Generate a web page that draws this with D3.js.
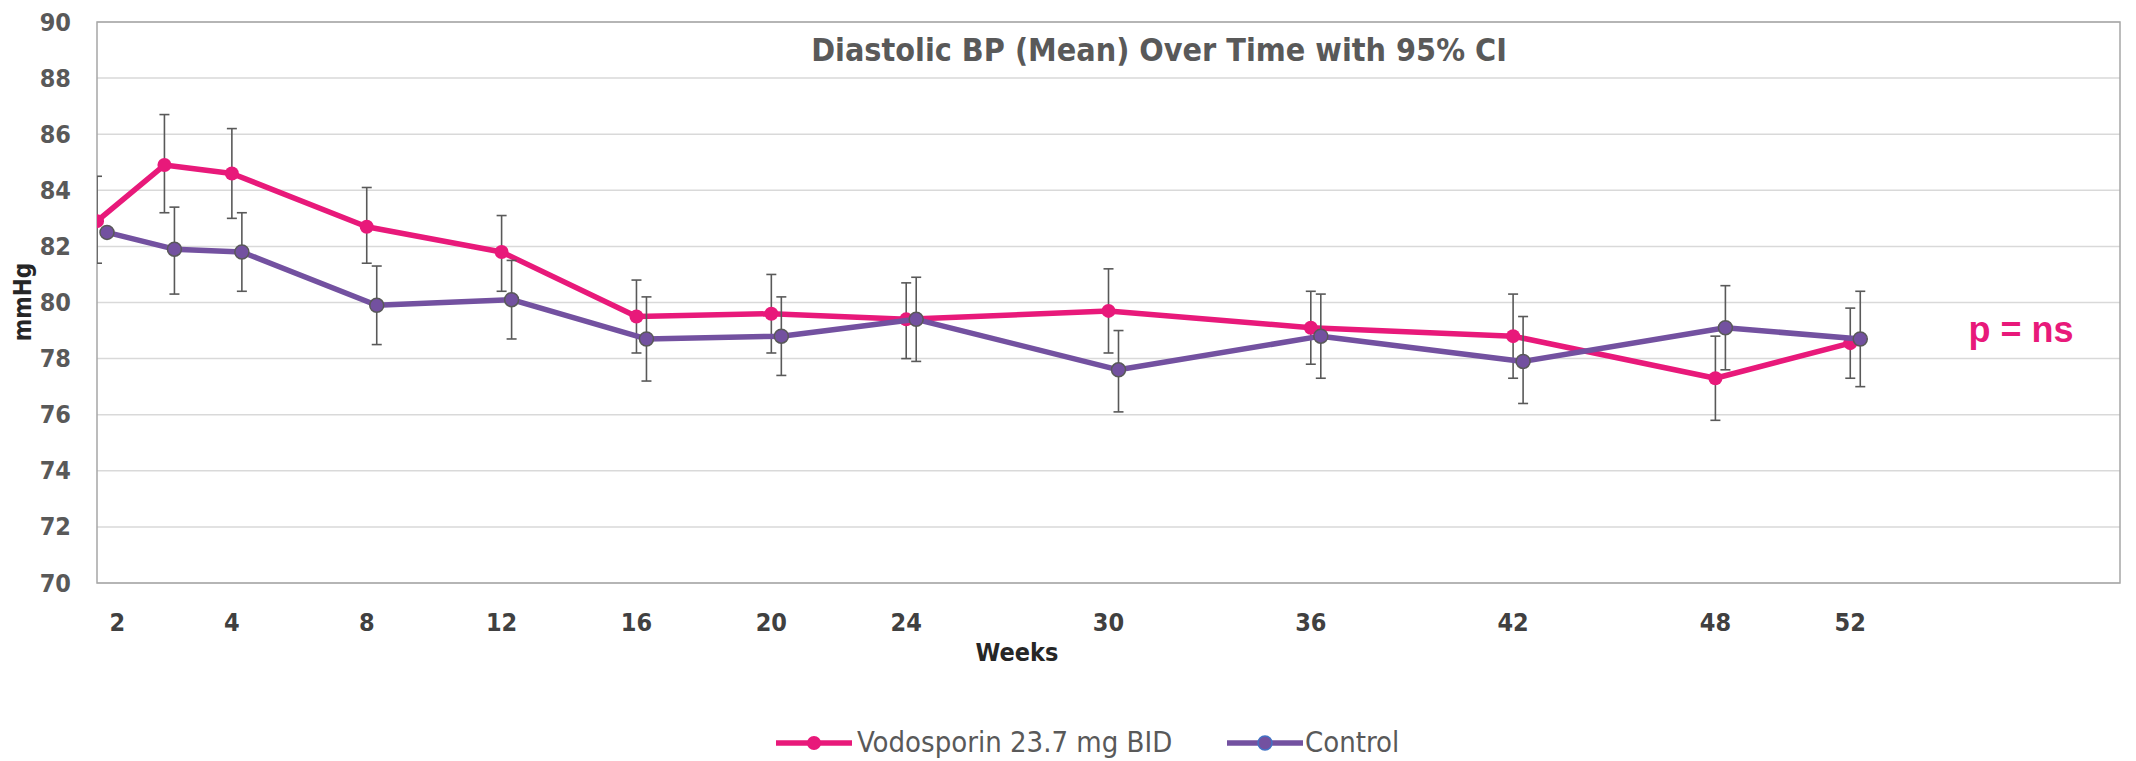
<!DOCTYPE html>
<html>
<head>
<meta charset="utf-8">
<script src="https://cdn.jsdelivr.net/npm/d3@7"></script>
<style>
  body { margin: 0; background: #fff; }
  svg { display: block; }
</style>
</head>
<body>
<svg id="chart" width="2136" height="761"></svg>
<script>
// weeks of each visit (0 = baseline)
const weeks = [0, 2, 4, 8, 12, 16, 20, 24, 30, 36, 42, 48, 52];

const vodoMean = [82.9, 84.9, 84.6, 82.7, 81.8, 79.5, 79.6, 79.4, 79.7, 79.1, 78.8, 77.3, 78.55];
const vodoHigh = [84.5, 86.7, 86.2, 84.1, 83.1, 80.8, 81.0, 80.7, 81.2, 80.4, 80.3, 78.8, 79.8];
const vodoLow  = [81.4, 83.2, 83.0, 81.4, 80.4, 78.2, 78.2, 78.0, 78.2, 77.8, 77.3, 75.8, 77.3];

const ctrlMean = [82.5, 81.9, 81.8, 79.9, 80.1, 78.7, 78.8, 79.4, 77.6, 78.8, 77.9, 79.1, 78.7];
const ctrlHigh = [null, 83.4, 83.2, 81.3, 81.5, 80.2, 80.2, 80.9, 79.0, 80.3, 79.5, 80.6, 80.4];
const ctrlLow  = [null, 80.3, 80.4, 78.5, 78.7, 77.2, 77.4, 77.9, 76.1, 77.3, 76.4, 77.6, 77.0];

// x-axis labels and where they sit (in weeks)
const tickLabels = ['2', '4', '8', '12', '16', '20', '24', '30', '36', '42', '48', '52'];
const tickWeeks  = [0.6, 4, 8, 12, 16, 20, 24, 30, 36, 42, 48, 52];
const yTicks = [70, 72, 74, 76, 78, 80, 82, 84, 86, 88, 90];

const seriesNames = ['Vodosporin 23.7 mg BID', 'Control'];
const PINK = '#E8197A', PURPLE = '#7351A0', GREY = '#595959';
const CONDENSED = "'Liberation Sans Narrow','DejaVu Sans Condensed',sans-serif";

const plot = {left: 97, right: 2120, top: 22, bottom: 583};

const x = d3.scaleLinear().domain([0, 60]).range([plot.left, plot.right]);
const y = d3.scaleLinear().domain([70, 90]).range([plot.bottom, plot.top]);

const svg = d3.select('#chart');

svg.append('defs').append('clipPath').attr('id', 'plotclip')
  .append('rect')
  .attr('x', plot.left).attr('y', plot.top - 10)
  .attr('width', plot.right - plot.left).attr('height', plot.bottom - plot.top + 20);

// gridlines
svg.append('g')
  .selectAll('line')
  .data(yTicks)
  .enter()
  .append('line')
  .attr('x1', plot.left).attr('x2', plot.right)
  .attr('y1', d => y(d)).attr('y2', d => y(d))
  .attr('stroke', '#D9D9D9')
  .attr('stroke-width', 1.5);

// plot border
svg.append('rect')
  .attr('x', plot.left).attr('y', plot.top)
  .attr('width', plot.right - plot.left).attr('height', plot.bottom - plot.top)
  .attr('fill', 'none')
  .attr('stroke', '#A6A6A6')
  .attr('stroke-width', 1.5);

// y axis labels
const yAxis = d3.axisLeft(y).tickValues(yTicks).tickSize(0).tickPadding(26);
const yg = svg.append('g').attr('transform', `translate(${plot.left},0)`).call(yAxis);
yg.select('.domain').remove();
yg.selectAll('text')
  .attr('font-family', CONDENSED)
  .attr('font-weight', 'bold')
  .attr('font-size', 25)
  .attr('fill', GREY);

// x axis labels
svg.append('g')
  .selectAll('text')
  .data(tickLabels)
  .enter()
  .append('text')
  .attr('x', (d, i) => x(tickWeeks[i]))
  .attr('y', 631)
  .attr('text-anchor', 'middle')
  .attr('font-family', CONDENSED)
  .attr('font-weight', 'bold')
  .attr('font-size', 25)
  .attr('fill', '#404040')
  .text(d => d);

// axis titles
svg.append('text')
  .attr('x', 1017).attr('y', 661)
  .attr('text-anchor', 'middle')
  .attr('font-family', CONDENSED)
  .attr('font-weight', 'bold')
  .attr('font-size', 25)
  .attr('fill', '#262626')
  .text('Weeks');

svg.append('text')
  .attr('transform', 'translate(31,302) rotate(-90)')
  .attr('text-anchor', 'middle')
  .attr('font-family', CONDENSED)
  .attr('font-weight', 'bold')
  .attr('font-size', 24)
  .attr('fill', '#262626')
  .text('mmHg');

svg.append('text')
  .attr('x', 1159).attr('y', 61)
  .attr('text-anchor', 'middle')
  .attr('font-family', CONDENSED)
  .attr('font-weight', 'bold')
  .attr('font-size', 32)
  .attr('fill', GREY)
  .text('Diastolic BP (Mean) Over Time with 95% CI');

svg.append('text')
  .attr('x', 2021).attr('y', 342)
  .attr('text-anchor', 'middle')
  .attr('font-family', "'Liberation Sans',Arial,sans-serif")
  .attr('font-weight', 'bold')
  .attr('font-size', 36)
  .attr('fill', PINK)
  .text('p = ns');

// series
const series = [
  {name: seriesNames[0], mean: vodoMean, hi: vodoHigh, lo: vodoLow, color: PINK, stroke: PINK, dx: 0},
  {name: seriesNames[1], mean: ctrlMean, hi: ctrlHigh, lo: ctrlLow, color: PURPLE, stroke: GREY, dx: 10}
];

const line = d3.line()
  .x(d => d.px)
  .y(d => y(d.v));

const marks = svg.append('g').attr('clip-path', 'url(#plotclip)');

series.forEach(s => {
  const pts = weeks.map((w, i) => ({px: x(w) + s.dx, v: s.mean[i], hi: s.hi[i], lo: s.lo[i]}));
  const g = marks.append('g');

  g.append('path')
    .attr('d', line(pts))
    .attr('fill', 'none')
    .attr('stroke', s.color)
    .attr('stroke-width', 5.5)
    .attr('stroke-linejoin', 'round');

  const eb = g.append('g')
    .selectAll('g')
    .data(pts.filter(p => p.hi != null))
    .enter()
    .append('g')
    .attr('stroke', GREY)
    .attr('stroke-width', 1.6);
  eb.append('line')
    .attr('x1', d => d.px).attr('x2', d => d.px)
    .attr('y1', d => y(d.hi)).attr('y2', d => y(d.lo));
  eb.append('line')
    .attr('x1', d => d.px - 5).attr('x2', d => d.px + 5)
    .attr('y1', d => y(d.hi)).attr('y2', d => y(d.hi));
  eb.append('line')
    .attr('x1', d => d.px - 5).attr('x2', d => d.px + 5)
    .attr('y1', d => y(d.lo)).attr('y2', d => y(d.lo));

  g.append('g')
    .selectAll('circle')
    .data(pts)
    .enter()
    .append('circle')
    .attr('cx', d => d.px)
    .attr('cy', d => y(d.v))
    .attr('r', 7)
    .attr('fill', s.color)
    .attr('stroke', s.stroke)
    .attr('stroke-width', s.stroke === s.color ? 0 : 1.5);
});

// legend
const legendItems = [
  {x: 776, textX: 857, color: PINK, stroke: PINK},
  {x: 1227, textX: 1305, color: PURPLE, stroke: '#4472C4'}
];
const legend = svg.append('g');
legendItems.forEach((it, i) => {
  legend.append('line')
    .attr('x1', it.x).attr('x2', it.x + 76)
    .attr('y1', 743).attr('y2', 743)
    .attr('stroke', it.color)
    .attr('stroke-width', 5.5);
  legend.append('circle')
    .attr('cx', it.x + 38).attr('cy', 743)
    .attr('r', 7)
    .attr('fill', it.color)
    .attr('stroke', it.stroke)
    .attr('stroke-width', i === 1 ? 1.5 : 0);
  legend.append('text')
    .attr('x', it.textX).attr('y', 752)
    .attr('font-family', CONDENSED)
    .attr('font-size', 29)
    .attr('fill', GREY)
    .text(seriesNames[i]);
});
</script>
</body>
</html>
